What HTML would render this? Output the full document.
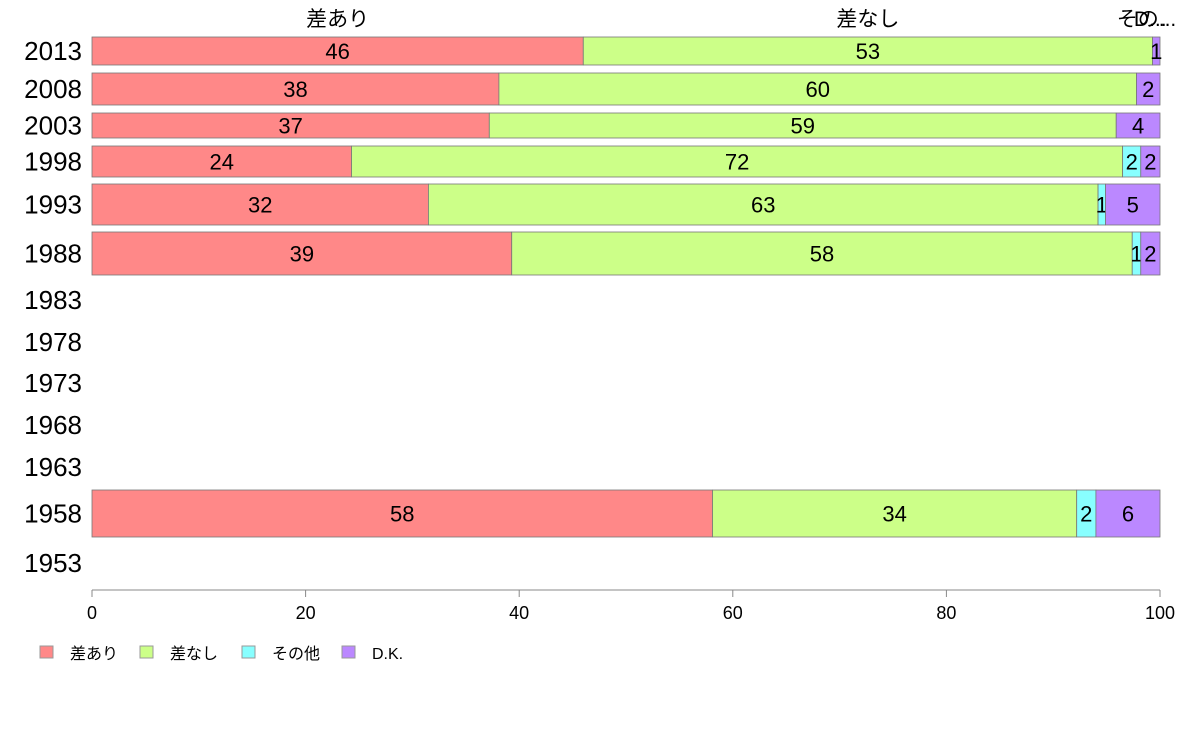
<!DOCTYPE html>
<html><head><meta charset="utf-8"><style>
body{margin:0;background:#fff;width:1188px;height:736px;overflow:hidden}
svg{font-family:"Liberation Sans","Noto Sans CJK JP",sans-serif}
</style></head><body>
<svg id="chart" width="1188" height="736" viewBox="0 0 1188 736"></svg>
<script>
const years = ["2013","2008","2003","1998","1993","1988","1983","1978","1973","1968","1963","1958","1953"];
const seriesNames = ["差あり","差なし","その他","D.K."];
const colors = ["#ff8888","#ccff88","#88ffff","#bb88ff"];
const vAri = [46.0,38.1,37.2,24.3,31.5,39.3,0,0,0,0,0,58.1,0];
const vNashi = [53.3,59.7,58.7,72.2,62.7,58.1,0,0,0,0,0,34.1,0];
const vOther = [0,0,0,1.7,0.7,0.8,0,0,0,0,0,1.8,0];
const vDK = [0.7,2.2,4.1,1.8,5.1,1.8,0,0,0,0,0,6.0,0];
const xTicks = [0,20,40,60,80,100];
// row geometry (layout, not data): top, bottom per year
const rowTop = [37,73,113,146,184,232,300,342,383,425,467,490,563];
const rowBot = [65,105,138,177,225,275,300,342,383,425,467,537,563];
const svg = document.getElementById('chart');
const NS = "http://www.w3.org/2000/svg";
const x = v => 92 + v * (1160 - 92) / 100;
function mk(tag, attrs, text){const e=document.createElementNS(NS,tag);for(const k in attrs)e.setAttribute(k,attrs[k]);if(text!==undefined)e.textContent=text;svg.appendChild(e);return e;}
const series=[vAri,vNashi,vOther,vDK];
years.forEach((yr,i)=>{
  const cy=(rowTop[i]+rowBot[i])/2;
  const t=mk('text',{x:82,y:cy+9,'text-anchor':'end','font-size':26,fill:'#000'},yr);
  
  
  let acc=0;
  series.forEach((s,j)=>{
    const v=s[i]; if(v<=0) return;
    const r=mk('rect',{x:x(acc),y:rowTop[i],width:x(acc+v)-x(acc),height:rowBot[i]-rowTop[i],fill:colors[j],stroke:'#777','stroke-width':0.8});
    
    
    const lb=mk('text',{x:(x(acc)+x(acc+v))/2,y:cy+8,'text-anchor':'middle','font-size':22,fill:'#000'},String(Math.round(v)));
    
    
    acc+=v;
  });
});
// top category labels from first row
{
  let acc=0;
  const tops=["差あり","差なし","その...","D..."];
  series.forEach((s,j)=>{
    const v=s[0];
    const t=mk('text',{x:(x(acc)+x(acc+v))/2 - (j>=2?6:0),y:26,'text-anchor':'middle','font-size':21,fill:'#000'},tops[j]);
    
    
    acc+=v;
  });
}
// x axis
const ax=mk('line',{x1:x(0),x2:x(100),y1:590,y2:590,stroke:'#888','stroke-width':1});


xTicks.forEach(v=>{
  const tk=mk('line',{x1:x(v),x2:x(v),y1:590,y2:597,stroke:'#888'});
  
  
  const tl=mk('text',{x:x(v),y:619,'text-anchor':'middle','font-size':18,fill:'#000'},String(v));
  
  
});
// legend
const legX=[40,140,242,342];
seriesNames.forEach((n,j)=>{
  const r=mk('rect',{x:legX[j],y:646,width:13,height:12,fill:colors[j],stroke:'#999'});
  
  
  const t=mk('text',{x:legX[j]+30,y:659,'font-size':16,fill:'#000'},n);
  
  
});
</script>
</body></html>
